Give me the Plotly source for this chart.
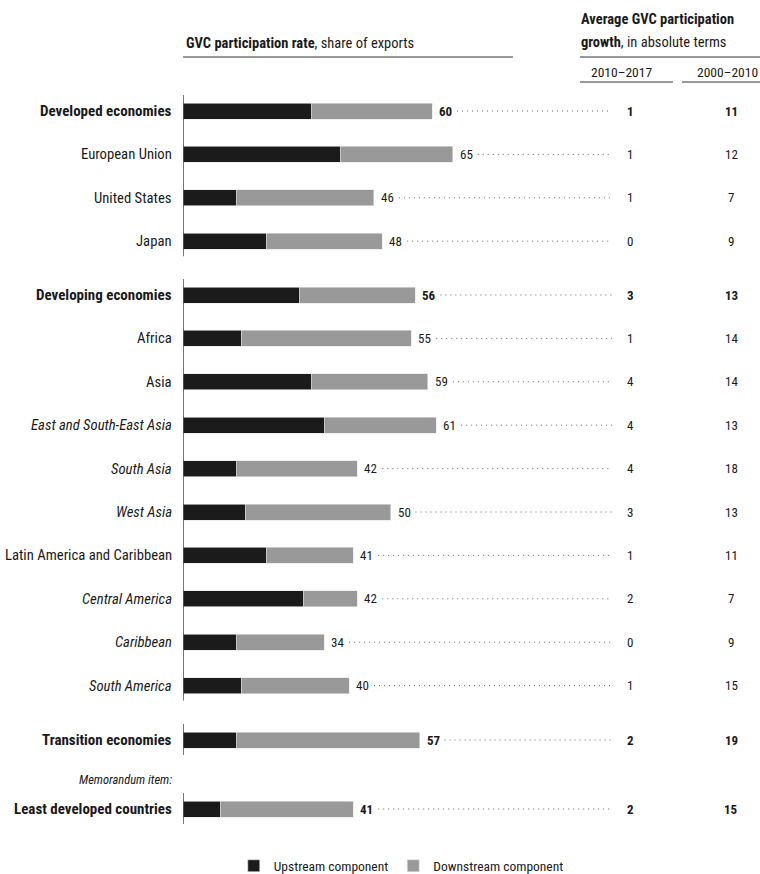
import plotly.graph_objects as go

# ---------------- data ----------------
regions = [
    "Developed economies", "European Union", "United States", "Japan",
    "Developing economies", "Africa", "Asia", "East and South-East Asia",
    "South Asia", "West Asia", "Latin America and Caribbean", "Central America",
    "Caribbean", "South America", "Transition economies", "Least developed countries",
]
total_rate = [60, 65, 46, 48, 56, 55, 59, 61, 42, 50, 41, 42, 34, 40, 57, 41]
upstream = [31, 38, 13, 20, 28, 14, 31, 34, 13, 15, 20, 29, 13, 14, 13, 9]
downstream = [t - u for t, u in zip(total_rate, upstream)]
growth_2010_2017 = [1, 1, 1, 0, 3, 1, 4, 4, 4, 3, 1, 2, 0, 1, 2, 2]
growth_2000_2010 = [11, 12, 7, 9, 13, 14, 14, 13, 18, 13, 11, 7, 9, 15, 19, 15]
row_group = [0, 0, 0, 0, 1, 1, 1, 1, 1, 1, 1, 1, 1, 1, 2, 3]
bold_rows = {0, 4, 14, 15}
italic_rows = {7, 8, 9, 11, 12, 13}

# ---------------- layout constants ----------------
W, H = 760, 874
FONT = "Liberation Sans Narrow, Arial Narrow, Roboto Condensed, DejaVu Sans Condensed, sans-serif"
TXT = "#1a1a1a"
BAR_X0 = 183          # pixel where bars start
PX_PER_UNIT = 4.15
X_MAX = (W - BAR_X0) / PX_PER_UNIT
group_start = {0: 111, 1: 295, 2: 740, 3: 809}
STEP = 43.4

row_y = []
count = {}
for g in row_group:
    k = count.get(g, 0)
    row_y.append(group_start[g] + k * STEP)
    count[g] = k + 1

def px2x(px):
    return (px - BAR_X0) / PX_PER_UNIT

fig = go.Figure()
fig.add_trace(go.Bar(
    y=row_y, x=upstream, orientation="h", width=16,
    marker=dict(color="#1b1b1b", line=dict(color="#e6e6e6", width=0.6)),
    name="Upstream component", hoverinfo="skip",
))
fig.add_trace(go.Bar(
    y=row_y, x=downstream, orientation="h", width=16,
    marker=dict(color="#999999", line=dict(color="#e6e6e6", width=0.6)),
    name="Downstream component", hoverinfo="skip",
))

annotations = []
shapes = []

def fmt(s, i):
    if i in bold_rows:
        return f"<b>{s}</b>"
    if i in italic_rows:
        return f"<i>{s}</i>"
    return s

for i, name in enumerate(regions):
    y = row_y[i]
    annotations.append(dict(
        x=174 / W, xref="paper", y=y, yref="y", text=fmt(name, i),
        xanchor="right", yanchor="middle", showarrow=False,
        font=dict(size=15 if i in bold_rows else 14.7, color=TXT, family=FONT),
    ))
    b = i in bold_rows
    annotations.append(dict(
        x=total_rate[i], xref="x", y=y, yref="y",
        text=f"<b>{total_rate[i]}</b>" if b else str(total_rate[i]),
        xanchor="left", yanchor="middle", xshift=5, showarrow=False,
        font=dict(size=13, color=TXT, family=FONT),
    ))
    shapes.append(dict(
        type="line", xref="x", yref="y",
        x0=total_rate[i] + 25 / PX_PER_UNIT, x1=px2x(612), y0=y, y1=y,
        line=dict(color="#666666", width=1, dash="1px,4px"),
    ))
    for val, px in ((growth_2010_2017[i], 630), (growth_2000_2010[i], 731)):
        annotations.append(dict(
            x=px / W, xref="paper", y=y, yref="y",
            text=f"<b>{val}</b>" if b else str(val),
            xanchor="center", yanchor="middle", showarrow=False,
            font=dict(size=13, color=TXT, family=FONT),
        ))

# group axis lines
for g in sorted(set(row_group)):
    ys = [row_y[i] for i in range(len(regions)) if row_group[i] == g]
    shapes.append(dict(
        type="line", xref="x", yref="y", x0=0, x1=0,
        y0=min(ys) - 16, y1=max(ys) + 15,
        line=dict(color="#1a1a1a", width=1.2),
    ))

# memorandum label
annotations.append(dict(
    x=174 / W, xref="paper", y=row_y[15] - 30, yref="y",
    text="<i>Memorandum item:</i>", xanchor="right", yanchor="middle",
    showarrow=False, font=dict(size=12.5, color=TXT, family=FONT),
))

# headers
annotations += [
    dict(x=184 / W, xref="paper", y=43, yref="y",
         text="<b>GVC participation rate</b>, share of exports",
         xanchor="left", yanchor="middle", showarrow=False,
         font=dict(size=14.5, color=TXT, family=FONT)),
    dict(x=579 / W, xref="paper", y=19, yref="y",
         text="<b>Average GVC participation</b>",
         xanchor="left", yanchor="middle", showarrow=False,
         font=dict(size=14.5, color=TXT, family=FONT)),
    dict(x=579 / W, xref="paper", y=42, yref="y",
         text="<b>growth</b>, in absolute terms",
         xanchor="left", yanchor="middle", showarrow=False,
         font=dict(size=14.5, color=TXT, family=FONT)),
    dict(x=621 / W, xref="paper", y=72, yref="y", text="2010–2017",
         xanchor="center", yanchor="middle", showarrow=False,
         font=dict(size=13.5, color=TXT, family=FONT)),
    dict(x=727 / W, xref="paper", y=72, yref="y", text="2000–2010",
         xanchor="center", yanchor="middle", showarrow=False,
         font=dict(size=13.5, color=TXT, family=FONT)),
]
for (a, b, yy) in ((183, 513, 57), (580, 760, 57), (580, 673, 82), (682, 760, 82)):
    shapes.append(dict(type="line", xref="paper", yref="y", x0=a / W, x1=b / W,
                       y0=yy, y1=yy, line=dict(color="#333333", width=1)))

fig.update_layout(
    width=W, height=H, barmode="stack",
    margin=dict(l=0, r=0, t=0, b=0, autoexpand=False),
    paper_bgcolor="white", plot_bgcolor="white",
    xaxis=dict(domain=[BAR_X0 / W, 1], range=[0, X_MAX], visible=False, fixedrange=True),
    yaxis=dict(domain=[0, 1], range=[H, 0], visible=False, fixedrange=True),
    annotations=annotations, shapes=shapes,
    showlegend=True,
    legend=dict(orientation="h", x=0.528, xanchor="center",
                y=1 - 866 / H, yanchor="middle",
                font=dict(size=13.5, color=TXT, family=FONT),
                itemwidth=30, traceorder="normal"),
    font=dict(family=FONT, color=TXT),
)

fig.write_html(
    "out.html",
    config={"displayModeBar": False},
    post_script="document.body.style.margin='0';document.body.style.overflow='hidden';",
)
